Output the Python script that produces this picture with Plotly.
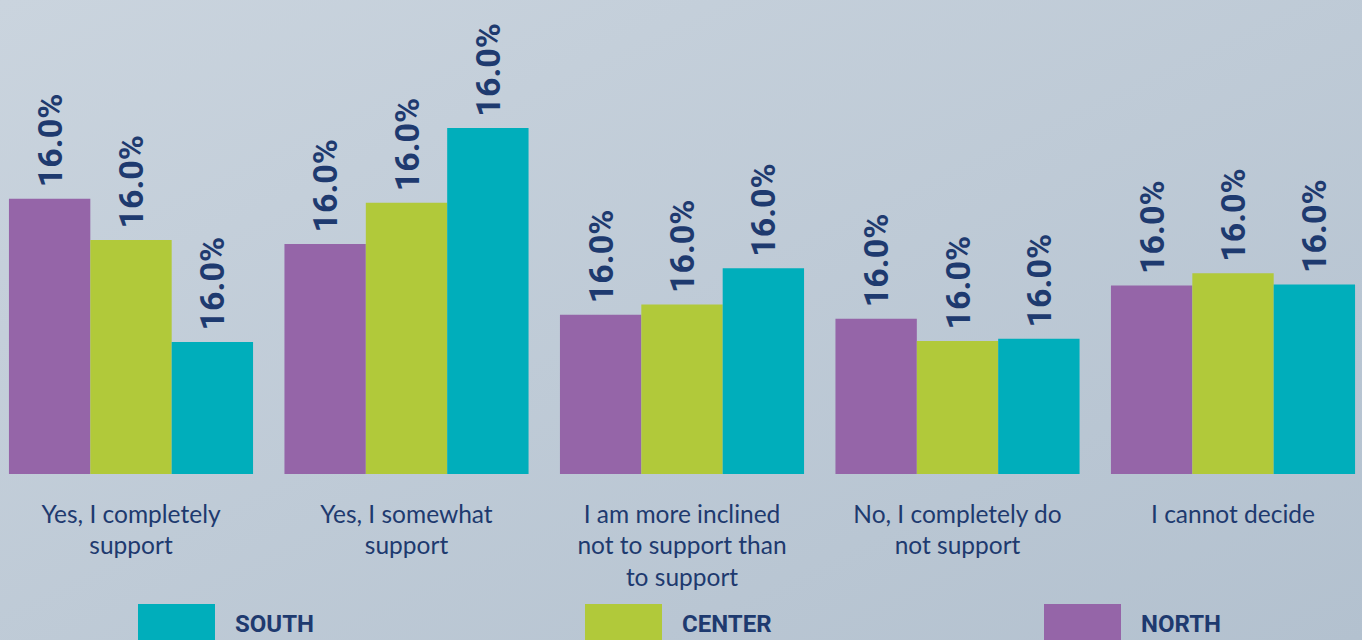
import base64
import plotly.graph_objects as go

# ---- data ----
categories = [
    "Yes, I completely<br>support",
    "Yes, I somewhat<br>support",
    "I am more inclined<br>not to support than<br>to support",
    "No, I completely do<br>not support",
    "I cannot decide",
]
north_values = [27.3, 22.8, 15.8, 15.4, 18.7]
center_values = [23.2, 26.9, 16.8, 13.2, 19.9]
south_values = [13.1, 34.3, 20.4, 13.4, 18.8]
north_labels = ["16.0%", "16.0%", "16.0%", "16.0%", "16.0%"]
center_labels = ["16.0%", "16.0%", "16.0%", "16.0%", "16.0%"]
south_labels = ["16.0%", "16.0%", "16.0%", "16.0%", "16.0%"]

# ---- style ----
colors = {"NORTH": "#9565a8", "CENTER": "#b1c93a", "SOUTH": "#00aebb"}
navy = "#1e3a6f"
label_font = "Roboto, sans-serif"
tick_font = "Lato, sans-serif"

W, H = 1362, 640
plot_bottom = 474  # px from top where bars start

fig = go.Figure()
for name, vals, labs in [
    ("NORTH", north_values, north_labels),
    ("CENTER", center_values, center_labels),
    ("SOUTH", south_values, south_labels),
]:
    fig.add_trace(go.Bar(
        name=name,
        x=categories,
        y=vals,
        text=labs,
        texttemplate="\u00a0%{text}",
        textposition="outside",
        textangle=-90,
        cliponaxis=False,
        constraintext="none",
        textfont=dict(family=label_font, size=34, color=navy, weight="bold"),
        marker=dict(color=colors[name], line=dict(width=0)),
        showlegend=False,
        hoverinfo="skip",
    ))

# background gradient as an inline svg image
svg = f'''<svg xmlns="http://www.w3.org/2000/svg" width="{W}" height="{H}">
<defs><linearGradient id="g" x1="0" y1="0" x2="1" y2="1">
<stop offset="0" stop-color="#cad4de"/><stop offset="1" stop-color="#b3c1cf"/>
</linearGradient></defs>
<rect width="{W}" height="{H}" fill="url(#g)"/></svg>'''
bg = "data:image/svg+xml;base64," + base64.b64encode(svg.encode()).decode()

# legend built from shapes + annotations (order: SOUTH, CENTER, NORTH)
legend_order = ["SOUTH", "CENTER", "NORTH"]
legend_x = [138, 585, 1044]
sw_w, sw_top, sw_bot = 77, 604, 650

def py(p):
    return (plot_bottom - p) / plot_bottom

shapes, annotations = [], []
for name, lx in zip(legend_order, legend_x):
    shapes.append(dict(type="rect", xref="paper", yref="paper",
                       x0=lx / W, x1=(lx + sw_w) / W, y0=py(sw_bot), y1=py(sw_top),
                       fillcolor=colors[name], line=dict(width=0), layer="above"))
    annotations.append(dict(xref="paper", yref="paper", x=(lx + sw_w + 18) / W, y=py(624),
                            xanchor="left", yanchor="middle", showarrow=False,
                            text=f"<b>{name}</b>",
                            font=dict(family=label_font, size=24, color=navy)))

fig.update_layout(
    width=W, height=H,
    barmode="group",
    bargap=0.114,
    bargroupgap=0,
    margin=dict(l=0, r=0, t=0, b=H - plot_bottom),
    paper_bgcolor="#c3cdd8",
    plot_bgcolor="rgba(0,0,0,0)",
    images=[dict(source=bg, xref="paper", yref="paper", x=0, y=1, sizex=1,
                 sizey=H / plot_bottom, xanchor="left", yanchor="top",
                 sizing="stretch", layer="below")],
    shapes=shapes,
    annotations=annotations,
    xaxis=dict(type="category", range=[-0.4755, 4.4682], showgrid=False, zeroline=False,
               showline=False, ticks="", ticklabelstandoff=23,
               tickfont=dict(family=tick_font, size=24.5, color=navy)),
    yaxis=dict(range=[0, 47.0], visible=False, showgrid=False, zeroline=False),
)

fig.write_html("out.html", config={"displayModeBar": False},
               post_script="document.body.style.margin='0';document.body.style.overflow='hidden';")
